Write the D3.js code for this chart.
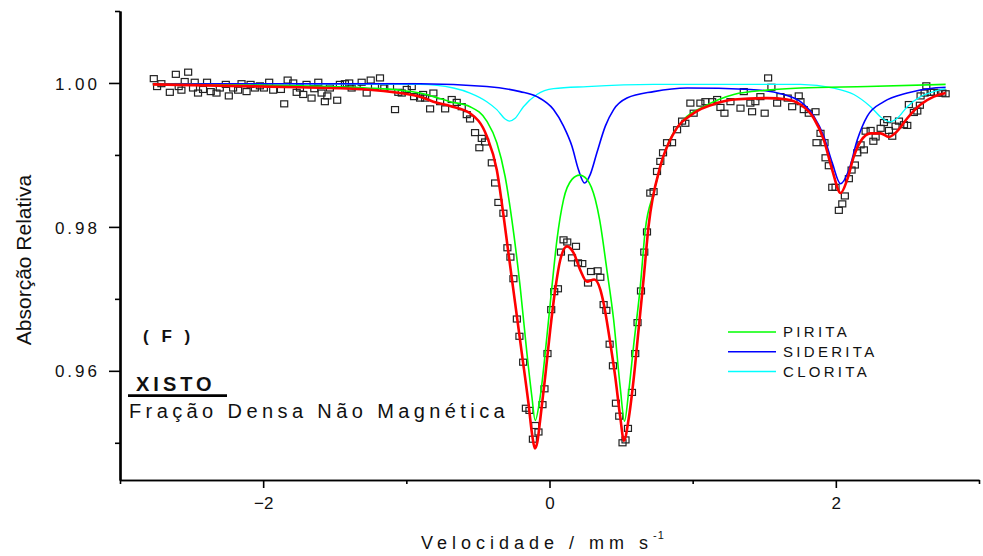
<!DOCTYPE html>
<html>
<head>
<meta charset="utf-8">
<script src="https://cdn.jsdelivr.net/npm/d3@7"></script>
<style>
  body { margin: 0; background: #fff; }
  svg { display: block; font-family: "Liberation Sans", Arial, sans-serif; }
</style>
</head>
<body>
<svg id="chart" width="983" height="556"></svg>
<script>
// pontos experimentais [velocidade, absorcao]
var observed = [[-2.764,1.0006],[-2.741,0.9995],[-2.711,0.9999],[-2.652,0.9987],[-2.610,1.0012],[-2.590,0.9995],[-2.571,0.9990],[-2.548,1.0002],[-2.524,1.0015],[-2.490,0.9993],[-2.478,1.0001],[-2.455,0.9986],[-2.420,0.9991],[-2.392,1.0001],[-2.366,0.9988],[-2.326,0.9986],[-2.303,0.9993],[-2.261,0.9998],[-2.240,0.9982],[-2.210,0.9993],[-2.175,0.9990],[-2.151,0.9999],[-2.116,0.9988],[-2.088,0.9998],[-2.058,0.9993],[-2.023,0.9996],[-1.995,0.9993],[-1.958,1.0001],[-1.930,0.9990],[-1.876,0.9991],[-1.853,0.9971],[-1.829,1.0004],[-1.790,1.0000],[-1.766,0.9987],[-1.743,0.9993],[-1.720,0.9984],[-1.697,0.9998],[-1.662,0.9979],[-1.643,0.9992],[-1.615,1.0001],[-1.592,0.9986],[-1.569,0.9974],[-1.552,0.9982],[-1.534,0.9993],[-1.483,0.9976],[-1.464,0.9998],[-1.429,0.9999],[-1.399,1.0000],[-1.382,0.9993],[-1.347,0.9995],[-1.312,1.0001],[-1.277,0.9986],[-1.249,1.0004],[-1.219,0.9995],[-1.184,1.0007],[-1.154,0.9993],[-1.114,0.9995],[-1.079,0.9963],[-1.056,0.9987],[-1.032,0.9986],[-0.997,0.9991],[-0.962,0.9995],[-0.946,0.9981],[-0.904,0.9979],[-0.883,0.9984],[-0.869,0.9979],[-0.834,0.9964],[-0.811,0.9986],[-0.764,0.9974],[-0.729,0.9964],[-0.683,0.9977],[-0.648,0.9973],[-0.613,0.9967],[-0.578,0.9956],[-0.555,0.9950],[-0.520,0.9931],[-0.490,0.9910],[-0.473,0.9923],[-0.450,0.9918],[-0.403,0.9889],[-0.380,0.9861],[-0.357,0.9834],[-0.322,0.9819],[-0.294,0.9771],[-0.273,0.9758],[-0.252,0.9728],[-0.228,0.9672],[-0.210,0.9648],[-0.184,0.9612],[-0.165,0.9548],[-0.140,0.9545],[-0.116,0.9505],[-0.100,0.9524],[-0.077,0.9515],[-0.049,0.9553],[-0.035,0.9575],[-0.014,0.9624],[0.012,0.9685],[0.033,0.9710],[0.059,0.9714],[0.080,0.9765],[0.098,0.9782],[0.124,0.9779],[0.157,0.9757],[0.185,0.9773],[0.199,0.9750],[0.229,0.9749],[0.269,0.9722],[0.290,0.9738],[0.336,0.9739],[0.355,0.9730],[0.378,0.9692],[0.397,0.9684],[0.420,0.9637],[0.443,0.9607],[0.464,0.9555],[0.487,0.9537],[0.510,0.9500],[0.531,0.9504],[0.548,0.9520],[0.576,0.9570],[0.599,0.9624],[0.615,0.9667],[0.639,0.9711],[0.662,0.9765],[0.681,0.9793],[0.704,0.9847],[0.727,0.9849],[0.751,0.9877],[0.774,0.9891],[0.793,0.9903],[0.821,0.9917],[0.856,0.9917],[0.891,0.9935],[0.926,0.9947],[0.949,0.9944],[0.984,0.9972],[1.007,0.9958],[1.054,0.9972],[1.089,0.9974],[1.136,0.9974],[1.171,0.9977],[1.194,0.9966],[1.222,0.9958],[1.264,0.9974],[1.334,0.9965],[1.357,0.9988],[1.403,0.9972],[1.415,0.9960],[1.438,0.9974],[1.473,0.9981],[1.503,0.9958],[1.527,1.0007],[1.550,0.9994],[1.590,0.9972],[1.613,0.9981],[1.664,0.9979],[1.695,0.9967],[1.741,0.9982],[1.753,0.9974],[1.776,0.9963],[1.811,0.9958],[1.858,0.9960],[1.865,0.9917],[1.893,0.9930],[1.921,0.9917],[1.928,0.9896],[1.951,0.9885],[1.975,0.9855],[1.998,0.9855],[2.021,0.9823],[2.045,0.9832],[2.063,0.9843],[2.091,0.9867],[2.110,0.9879],[2.133,0.9886],[2.150,0.9903],[2.173,0.9914],[2.196,0.9907],[2.208,0.9933],[2.243,0.9934],[2.262,0.9919],[2.278,0.9925],[2.313,0.9937],[2.336,0.9945],[2.359,0.9949],[2.371,0.9934],[2.394,0.9926],[2.417,0.9940],[2.441,0.9947],[2.476,0.9942],[2.499,0.9941],[2.510,0.9970],[2.545,0.9959],[2.569,0.9961],[2.587,0.9969],[2.592,0.9982],[2.620,0.9986],[2.632,0.9996],[2.662,0.9987],[2.685,0.9987],[2.713,0.9986],[2.744,0.9986],[2.767,0.9985]];

// ajuste total
var ajuste = [[-2.771,0.9998],[-1.743,0.9994],[-1.277,0.9991],[-1.044,0.9986],[-0.904,0.9981],[-0.811,0.9974],[-0.694,0.9968],[-0.555,0.9958],[-0.438,0.9926],[-0.368,0.9879],[-0.322,0.9817],[-0.287,0.9764],[-0.240,0.9694],[-0.193,0.9624],[-0.147,0.9555],[-0.121,0.9511],[-0.102,0.9492],[-0.086,0.9500],[-0.065,0.9532],[-0.030,0.9592],[0.005,0.9657],[0.040,0.9713],[0.075,0.9754],[0.122,0.9773],[0.168,0.9764],[0.215,0.9740],[0.262,0.9724],[0.313,0.9727],[0.355,0.9713],[0.378,0.9694],[0.425,0.9638],[0.459,0.9592],[0.494,0.9536],[0.520,0.9503],[0.552,0.9532],[0.587,0.9587],[0.622,0.9657],[0.657,0.9727],[0.692,0.9801],[0.774,0.9884],[0.867,0.9930],[1.007,0.9958],[1.171,0.9972],[1.287,0.9977],[1.520,0.9979],[1.660,0.9977],[1.753,0.9970],[1.846,0.9951],[1.916,0.9921],[1.975,0.9879],[2.033,0.9847],[2.080,0.9866],[2.126,0.9898],[2.173,0.9919],[2.243,0.9930],[2.313,0.9930],[2.371,0.9925],[2.429,0.9933],[2.499,0.9951],[2.592,0.9970],[2.685,0.9981],[2.767,0.9986]];

var pirita = [[-2.771,0.9998],[-1.743,0.9996],[-1.277,0.9993],[-1.044,0.9990],[-0.904,0.9986],[-0.811,0.9981],[-0.694,0.9974],[-0.555,0.9967],[-0.438,0.9947],[-0.368,0.9917],[-0.310,0.9870],[-0.263,0.9810],[-0.205,0.9717],[-0.158,0.9625],[-0.123,0.9564],[-0.100,0.9531],[-0.065,0.9564],[-0.018,0.9648],[0.017,0.9717],[0.052,0.9782],[0.098,0.9838],[0.157,0.9866],[0.210,0.9872],[0.262,0.9866],[0.320,0.9838],[0.350,0.9810],[0.401,0.9740],[0.448,0.9671],[0.494,0.9577],[0.524,0.9530],[0.552,0.9569],[0.587,0.9634],[0.634,0.9717],[0.669,0.9796],[0.727,0.9847],[0.821,0.9912],[0.937,0.9949],[1.077,0.9967],[1.287,0.9984],[1.520,0.9990],[1.753,0.9993],[2.220,0.9995],[2.767,0.9998]];

var siderita = [[-2.771,0.9999],[-0.904,0.9999],[-0.438,0.9995],[-0.205,0.9988],[-0.088,0.9981],[0.028,0.9963],[0.098,0.9940],[0.157,0.9912],[0.203,0.9879],[0.245,0.9861],[0.285,0.9873],[0.331,0.9903],[0.390,0.9940],[0.448,0.9963],[0.541,0.9979],[0.727,0.9988],[0.961,0.9993],[1.403,0.9991],[1.636,0.9984],[1.753,0.9974],[1.846,0.9954],[1.916,0.9926],[1.975,0.9889],[2.033,0.9860],[2.091,0.9879],[2.150,0.9921],[2.220,0.9954],[2.336,0.9974],[2.499,0.9986],[2.685,0.9993],[2.767,0.9994]];

var clorita = [[-2.771,0.9999],[-0.904,0.9998],[-0.671,0.9993],[-0.555,0.9986],[-0.438,0.9974],[-0.368,0.9963],[-0.310,0.9950],[-0.280,0.9947],[-0.240,0.9951],[-0.182,0.9967],[-0.088,0.9984],[0.028,0.9992],[0.262,0.9995],[0.727,0.9998],[1.753,0.9998],[1.984,0.9993],[2.126,0.9984],[2.243,0.9967],[2.324,0.9951],[2.378,0.9946],[2.429,0.9951],[2.499,0.9967],[2.592,0.9981],[2.685,0.9988],[2.767,0.9992]];

var xMajor = [-2, 0, 2];
var xMinor = [-3, -1, 1, 3];
var yMajor = [0.96, 0.98, 1.00];
var yMinor = [0.95, 0.97, 0.99, 1.01];

var legendNames = ["PIRITA", "SIDERITA", "CLORITA"];
var legendColors = ["#00ff00", "#0000ff", "#00ffff"];

var svg = d3.select("#chart");

var x = d3.scaleLinear().domain([-3, 3]).range([120, 979]);
var y = d3.scaleLinear().domain([0.94483, 1.01]).range([480, 11]);

// eixos
var gx = svg.append("g").attr("transform", "translate(0,480)");
gx.call(d3.axisBottom(x).tickValues(xMajor).tickSize(8).tickSizeOuter(0)
    .tickFormat(d3.format("d")));
gx.append("g").call(d3.axisBottom(x).tickValues(xMinor).tickSize(4).tickSizeOuter(0).tickFormat(""));
gx.selectAll(".domain").attr("stroke", "#000").attr("stroke-width", 1.6);
gx.selectAll(".tick line").attr("stroke", "#000").attr("stroke-width", 1.6);
gx.selectAll(".tick text").attr("fill", "#111").attr("font-size", 17)
    .attr("font-family", "Liberation Sans, Arial, sans-serif")
    .attr("y", 0).attr("dy", 29);

var gy = svg.append("g").attr("transform", "translate(120,0)");
gy.call(d3.axisLeft(y).tickValues(yMajor).tickSize(11).tickSizeOuter(0)
    .tickFormat(d3.format(".2f")));
gy.append("g").call(d3.axisLeft(y).tickValues(yMinor).tickSize(5).tickSizeOuter(0).tickFormat(""));
gy.selectAll(".domain").attr("stroke", "#000").attr("stroke-width", 2.2);
gy.selectAll(".tick line").attr("stroke", "#000").attr("stroke-width", 1.6);
gy.selectAll(".tick text").attr("fill", "#111").attr("font-size", 17)
    .attr("font-family", "Liberation Sans, Arial, sans-serif")
    .style("letter-spacing", "3px")
    .attr("x", -20).attr("dy", "0.36em");

// pontos
svg.append("g").selectAll("rect").data(observed).enter().append("rect")
    .attr("x", function (d) { return x(d[0]) - 3.5; })
    .attr("y", function (d) { return y(d[1]) - 3; })
    .attr("width", 7).attr("height", 6)
    .attr("fill", "none").attr("stroke", "#222").attr("stroke-width", 1.2);

var line = d3.line()
    .x(function (d) { return x(d[0]); })
    .y(function (d) { return y(d[1]); })
    .curve(d3.curveMonotoneX);

var curves = [
    { data: clorita, color: "#00ffff", width: 1.3 },
    { data: siderita, color: "#0000ff", width: 1.6 },
    { data: pirita, color: "#00ff00", width: 1.6 },
    { data: ajuste, color: "#ff0000", width: 2.6 }
];
curves.forEach(function (c) {
    svg.append("path").datum(c.data).attr("d", line)
        .attr("fill", "none").attr("stroke", c.color).attr("stroke-width", c.width);
});

// legenda
var legends = svg.append("g").attr("transform", "translate(728,332)")
    .selectAll(".legends").data(legendNames);
legends = legends.enter().append("g").classed("legends", true).attr("transform", function (d, i) {
    return "translate(0," + i * 19.8 + ")";
});
legends.append("line").attr("x1", 0).attr("x2", 48).attr("y1", 0).attr("y2", 0)
    .attr("stroke", function (d, i) { return legendColors[i]; }).attr("stroke-width", 1.5);
legends.append("text").text(function (d) { return d; })
    .attr("x", 55).attr("y", 5.3)
    .attr("font-size", 15).attr("fill", "#111").style("letter-spacing", "3.3px");

// textos
svg.append("text").attr("x", 143).attr("y", 342).attr("font-size", 17).attr("font-weight", "bold")
    .attr("fill", "#111").style("letter-spacing", "4px").text("( F )");
svg.append("text").attr("x", 136).attr("y", 391).attr("font-size", 20).attr("font-weight", "bold")
    .attr("fill", "#111").style("letter-spacing", "4px").text("XISTO");
svg.append("line").attr("x1", 128).attr("x2", 227).attr("y1", 395.7).attr("y2", 395.7)
    .attr("stroke", "#000").attr("stroke-width", 2.7);
svg.append("text").attr("x", 129).attr("y", 417.5).attr("font-size", 20)
    .attr("fill", "#111").style("letter-spacing", "4.4px").text("Fração Densa Não Magnética");

svg.append("text").attr("transform", "translate(31,260) rotate(-90)")
    .attr("text-anchor", "middle").attr("font-size", 21).attr("fill", "#111")
    .text("Absorção Relativa");

var xt = svg.append("text").attr("x", 421).attr("y", 549).attr("font-size", 18).attr("fill", "#111")
    .style("letter-spacing", "5px");
xt.append("tspan").text("Velocidade / mm s");
xt.append("tspan").attr("font-size", 11).attr("dy", -10).style("letter-spacing", "1px").text("-1");
</script>
</body>
</html>
